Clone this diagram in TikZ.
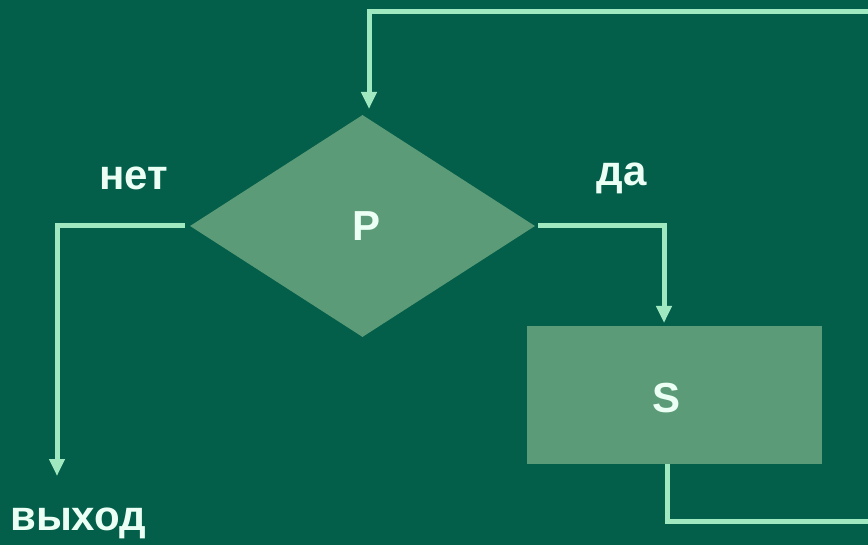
\documentclass[tikz,border=0pt]{standalone}
\usepackage{fontspec}
\setmainfont{Liberation Sans}
\usetikzlibrary{shapes.geometric,arrows.meta}
\definecolor{bg}{HTML}{035E4A}
\definecolor{shapefill}{HTML}{5C9B77}
\definecolor{wire}{HTML}{A0E8C0}
\definecolor{txt}{HTML}{ECFFF4}
\tikzset{
  wirestyle/.style={draw=wire, line width=5pt},
  arr/.style={-{Triangle[width=15pt,length=17pt]}},
  lbl/.style={text=txt, font=\fontsize{42}{44}\selectfont\bfseries, inner sep=0pt},
  decision/.style={diamond, fill=shapefill, minimum width=345pt, minimum height=222pt, inner sep=0pt},
  process/.style={rectangle, fill=shapefill, minimum width=295pt, minimum height=138pt, inner sep=0pt},
}
\begin{document}
\begin{tikzpicture}[x=1pt,y=-1pt]
\fill[bg] (0,0) rectangle (868,545);
\useasboundingbox (0,0) rectangle (868,545);
\node[decision] (P) at (362.5,226) {};
\node[lbl] (Pt) at (367,226) {P};
\node[process] (S) at (674,395) {};
\node[lbl] (St) at (667,398) {S};
\node[lbl] (no) at (134,178) {нет};
\node[lbl] (yes) at (622,178) {да};
\node[lbl, anchor=west] (out) at (10,523) {выход};
% connectors
\coordinate (exitc) at (57,476);
\coordinate (lstart) at ([xshift=-5pt]P.west);
\coordinate (rstart) at ([xshift=3pt]P.east);
\coordinate (sin) at (664,323);
\coordinate (sout) at (667,464);
\coordinate (loopR1) at (868,521);
\coordinate (loopR2) at (868,12);
\coordinate (ptop) at (369,109);
\draw[wirestyle, arr] (lstart) -| (exitc);
\draw[wirestyle, arr] (rstart) -| (sin);
\draw[wirestyle] (sout) |- (loopR1);
\draw[wirestyle, arr] (loopR2) -| (ptop);
\end{tikzpicture}
\end{document}
